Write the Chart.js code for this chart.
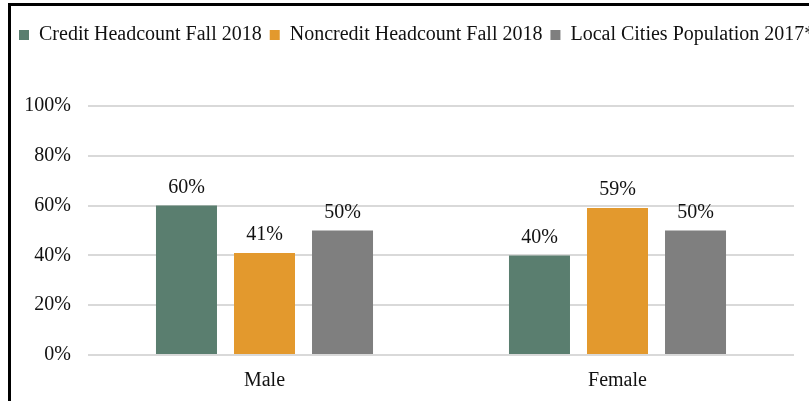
<!DOCTYPE html>
<html>
<head>
<meta charset="utf-8">
<script src="https://cdn.jsdelivr.net/npm/chart.js@4/dist/chart.umd.min.js"></script>
<style>
  html, body { margin: 0; padding: 0; background: #fff; overflow: hidden; }
  #frame {
    position: absolute; left: 8px; top: 3px;
    width: 860px; height: 420px;
    border-left: 3px solid #000; border-top: 3px solid #000;
  }
  #wrap { position: absolute; left: 0; top: 0; width: 840px; height: 395px; }
</style>
</head>
<body>
<div id="frame"><div id="wrap"><canvas id="barChart"></canvas></div></div>
<script>
// categories and series (percent)
var categories = ["Male", "Female"];
var creditHeadcount = [60, 40];
var noncreditHeadcount = [41, 59];
var citiesPopulation = [50, 50];
var seriesNames = ["Credit Headcount Fall 2018", "Noncredit Headcount Fall 2018", "Local Cities Population 2017*"];
var yTicks = [0, 20, 40, 60, 80, 100];

var serif = "'Liberation Serif', 'Times New Roman', serif";

// draws the value above each bar
var barLabels = {
  id: 'barLabels',
  afterDatasetsDraw: function(chart) {
    var ctx = chart.ctx;
    ctx.save();
    ctx.font = "20px " + serif;
    ctx.fillStyle = "#111";
    ctx.textAlign = "center";
    ctx.textBaseline = "bottom";
    chart.data.datasets.forEach(function(ds, i) {
      chart.getDatasetMeta(i).data.forEach(function(bar, j) {
        ctx.fillText(ds.data[j] + "%", bar.x, bar.y - 8);
      });
    });
    ctx.restore();
  }
};

// keep the legend on one line (it runs off the right edge) and make it taller
var legendHeight = {
  id: 'legendHeight',
  beforeInit: function(chart) {
    var fit = chart.legend.fit;
    chart.legend.fit = function() {
      this.maxWidth = 2000;
      fit.call(this);
      this.height = 89;
    };
  },
  afterLayout: function(chart) {
    chart.legend.right = chart.legend.left + 2000;
    chart.legend.width = 2000;
  }
};

var ctx = document.getElementById("barChart").getContext('2d');
var myBarChart = new Chart(ctx, {
  type: 'bar',
  data: {
    labels: categories,
    datasets: [{
      label: seriesNames[0],
      data: creditHeadcount,
      backgroundColor: "#5A7E6F"
    }, {
      label: seriesNames[1],
      data: noncreditHeadcount,
      backgroundColor: "#E3992D"
    }, {
      label: seriesNames[2],
      data: citiesPopulation,
      backgroundColor: "#7F7F7F"
    }]
  },
  options: {
    responsive: true,
    maintainAspectRatio: false,
    animation: false,
    layout: { padding: { top: 11, right: 57, bottom: 0, left: 0 } },
    datasets: {
      bar: { categoryPercentage: 0.663, barPercentage: 0.782 }
    },
    plugins: {
      legend: {
        position: 'top',
        align: 'start',
        labels: {
          boxWidth: 10,
          boxHeight: 10,
          padding: 8,
          color: "#111",
          font: { family: serif, size: 20 }
        }
      },
      tooltip: { enabled: false }
    },
    scales: {
      x: {
        afterFit: function(scale) { scale.height = 46; },
        grid: { display: false, drawTicks: false },
        border: { display: false },
        ticks: {
          color: "#111",
          padding: 14,
          font: { family: serif, size: 20 }
        }
      },
      y: {
        min: 0,
        max: 100,
        afterFit: function(scale) { scale.width = 77; },
        afterBuildTicks: function(scale) {
          scale.ticks = yTicks.map(function(v) { return { value: v }; });
        },
        grid: { color: "#D9D9D9", lineWidth: 2, drawTicks: false },
        border: { display: false },
        ticks: {
          color: "#111",
          padding: 17,
          font: { family: serif, size: 20 },
          callback: function(v) { return v + "%"; }
        }
      }
    }
  },
  plugins: [barLabels, legendHeight]
});
</script>
</body>
</html>
